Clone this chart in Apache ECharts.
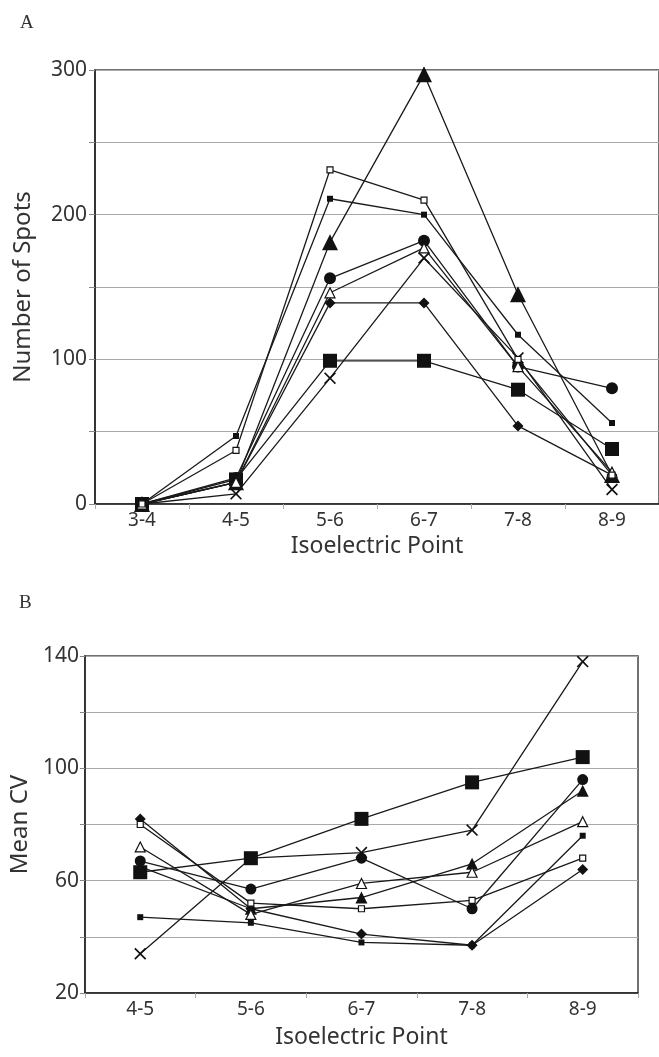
<!DOCTYPE html>
<html><head><meta charset="utf-8">
<script src="https://cdn.jsdelivr.net/npm/echarts@6/dist/echarts.min.js"></script>
<style>html,body{margin:0;padding:0;background:#fff}#c{width:659px;height:1057px}</style>
</head><body><div id="c"></div>
<script>
// Panel A data
const catsA = ['3-4','4-5','5-6','6-7','7-8','8-9'];
const aTriFilled   = [0, 15, 181, 297, 145, 20];
const aSqOpen      = [0, 37, 231, 210, 100, 20];
const aSqSmall     = [0, 47, 211, 200, 117, 56];
const aCircle      = [0, 18, 156, 182, 95, 80];
const aTriOpen     = [0, 15, 146, 177, 95, 22];
const aDiamond     = [0, 15, 139, 139, 54, 20];
const aSqBig       = [0, 17, 99, 99, 79, 38];
const aCross       = [0, 7, 87, 170, 101, 10];
// Panel B data
const catsB = ['4-5','5-6','6-7','7-8','8-9'];
const bCircle      = [67, 57, 68, 50, 96];
const bTriFilled   = [65, 50, 54, 66, 92];
const bTriOpen     = [72, 48, 59, 63, 81];
const bDiamond     = [82, 50, 41, 37, 64];
const bSqSmall     = [47, 45, 38, 37, 76];
const bSqOpen      = [80, 52, 50, 53, 68];
const bCross       = [34, 68, 70, 78, 138];
const bSqBig       = [63, 68, 82, 95, 104];

const CROSS = 'path://M0,1 L1,0 L5,4 L9,0 L10,1 L6,5 L10,9 L9,10 L5,6 L1,10 L0,9 L4,5 Z';
const FONT = 'Noto Sans';

function ser(data, idx, symbol, size, open){
  return {
    type:'line', xAxisIndex:idx, yAxisIndex:idx, data:data,
    symbol:symbol, symbolSize:size, showSymbol:true,
    lineStyle:{color:'#1a1a1a', width:1.3},
    itemStyle:{color: open ? '#fff' : '#111', borderColor:'#111', borderWidth: open ? 1.2 : 0},
    z: open ? 3 : 2, animation:false
  };
}

const chart = echarts.init(document.getElementById('c'), null, {renderer:'canvas'});
const axisTxt = {color:'#333', fontFamily:FONT};
chart.setOption({
  animation:false,
  backgroundColor:'#fff',
  graphic:[
    {type:'text', left:20, top:14, style:{text:'A', fontFamily:'Liberation Serif', fontSize:19, fill:'#333'}},
    {type:'text', left:19, top:594, style:{text:'B', fontFamily:'Liberation Serif', fontSize:19, fill:'#333'}}
  ],
  grid:[
    {left:95, top:70, width:567, height:434, show:true, borderColor:'#444', borderWidth:1.5},
    {left:83, top:656, width:555, height:337, show:true, borderColor:'#444', borderWidth:1.5}
  ],
  xAxis:[
    {type:'category', gridIndex:0, data:catsA, boundaryGap:true,
     axisLine:{lineStyle:{color:'#222', width:1.5}},
     axisTick:{show:true, length:5, lineStyle:{color:'#aaa'}},
     axisLabel:Object.assign({fontSize:19, margin:7}, axisTxt),
     name:'Isoelectric Point', nameLocation:'middle', nameGap:31,
     nameTextStyle:Object.assign({fontSize:23}, axisTxt)},
    {type:'category', gridIndex:1, data:catsB, boundaryGap:true,
     axisLine:{lineStyle:{color:'#222', width:1.5}},
     axisTick:{show:true, length:5, lineStyle:{color:'#aaa'}},
     axisLabel:Object.assign({fontSize:19, margin:7}, axisTxt),
     name:'Isoelectric Point', nameLocation:'middle', nameGap:33,
     nameTextStyle:Object.assign({fontSize:23}, axisTxt)}
  ],
  yAxis:[
    {type:'value', gridIndex:0, min:0, max:300, interval:50,
     axisLine:{show:true, lineStyle:{color:'#222', width:1.5}},
     axisTick:{show:true, length:6, lineStyle:{color:'#888'}},
     splitLine:{show:true, lineStyle:{color:'#aaa', width:1.2}},
     axisLabel:Object.assign({fontSize:21, margin:8, formatter:v => v % 100 === 0 ? String(v) : ''}, axisTxt),
     name:'Number of Spots', nameLocation:'middle', nameGap:60,
     nameTextStyle:Object.assign({fontSize:24}, axisTxt)},
    {type:'value', gridIndex:1, min:20, max:140, interval:20,
     axisLine:{show:true, lineStyle:{color:'#222', width:1.5}},
     axisTick:{show:true, length:5, lineStyle:{color:'#888'}},
     splitLine:{show:true, lineStyle:{color:'#aaa', width:1.2}},
     axisLabel:Object.assign({fontSize:21, margin:6, formatter:v => (v - 20) % 40 === 0 ? String(v) : ''}, axisTxt),
     name:'Mean CV', nameLocation:'middle', nameGap:47,
     nameTextStyle:Object.assign({fontSize:24}, axisTxt)}
  ],
  series:[
    ser(aSqBig,0,'rect',14,false),
    ser(aDiamond,0,'diamond',11,false),
    ser(aCross,0,CROSS,12,false),
    ser(aTriOpen,0,'triangle',10,true),
    ser(aCircle,0,'circle',12,false),
    ser(aSqSmall,0,'rect',6,false),
    ser(aSqOpen,0,'rect',6,true),
    ser(aTriFilled,0,'triangle',16,false),
    ser(bSqBig,1,'rect',14,false),
    ser(bDiamond,1,'diamond',11,false),
    ser(bCross,1,CROSS,12,false),
    ser(bTriOpen,1,'triangle',10,true),
    ser(bCircle,1,'circle',11,false),
    ser(bSqSmall,1,'rect',6,false),
    ser(bSqOpen,1,'rect',6,true),
    ser(bTriFilled,1,'triangle',12,false)
  ]
});
</script></body></html>
